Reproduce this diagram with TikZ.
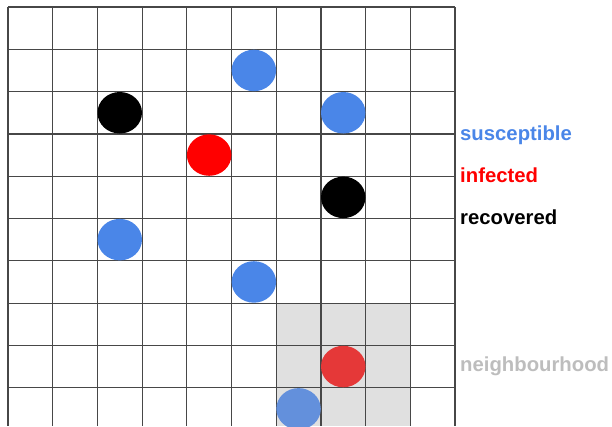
\documentclass[tikz,border=0pt]{standalone}
\usepackage{fontspec}
\setmainfont{Liberation Sans}
\usepackage{tikz}
\usetikzlibrary{shapes.geometric}
\definecolor{susblue}{HTML}{4A86E8}
\definecolor{infred}{HTML}{FF0000}
\definecolor{nbgray}{HTML}{E0E0E0}
\definecolor{nbtext}{HTML}{BDBDBD}
\definecolor{nbred}{HTML}{E53838}
\definecolor{nbblue}{HTML}{6390DC}

\begin{document}
\begin{tikzpicture}[x=1pt,y=-1pt,
agent/.style={ellipse,inner sep=0pt,minimum width=44.5pt,minimum height=41.5pt},
susc/.style={agent,fill=susblue},
infd/.style={agent,fill=infred},
recd/.style={agent,fill=black},
gridline/.style={draw=black!72,line width=1.2pt},
legend/.style={anchor=base west,inner sep=0pt,
font=\fontsize{20.3}{24}\selectfont\bfseries}
]
\useasboundingbox (0,0) rectangle (612,426);

% neighbourhood
\fill[nbgray] (276.2,303.1) rectangle (410.3,426);

% grid
\foreach \i in {0,...,10}
  \draw[gridline] (8+44.7*\i,7) -- (8+44.7*\i,426);
\foreach \j in {0,...,9}
  \draw[gridline] (8,7+42.3*\j) -- (455,7+42.3*\j);

% agents
\node[susc] (s1) at (253.85,70.45) {};
\node[recd] (r1) at (119.75,112.75) {};
\node[susc] (s2) at (343.25,112.75) {};
\node[infd] (i1) at (209.15,155.05) {};
\node[recd] (r2) at (343.25,197.35) {};
\node[susc] (s3) at (119.75,239.65) {};
\node[susc] (s4) at (253.85,281.95) {};
\node[agent,fill=nbred] (i2) at (343.25,366.55) {};
\node[agent,fill=nbblue] (s5) at (298.55,408.85) {};

% legend
\node[legend,text=susblue] (lsus) at (460,140.5) {susceptible};
\node[legend,text=infred] (linf) at (460,182.5) {infected};
\node[legend,text=black] (lrec) at (460,224.5) {recovered};
\node[legend,text=nbtext] (lnb) at (460,371.5) {neighbourhood};
\end{tikzpicture}
\end{document}
